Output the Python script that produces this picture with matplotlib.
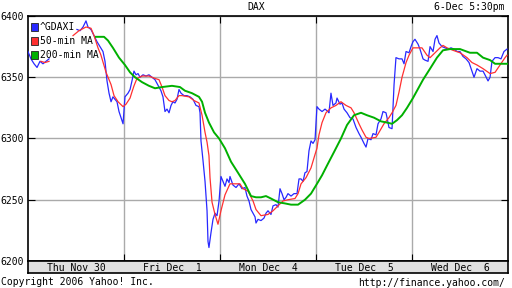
import numpy as np
import matplotlib
matplotlib.use("Agg")
import matplotlib.pyplot as plt
from matplotlib.patches import Rectangle

plt.rcParams["font.family"] = "DejaVu Sans Mono"

# time axis in trading days (0 = Thu Nov 30 open, 5 = Wed Dec 6 close)
day_labels = ["Thu Nov 30", "Fri Dec  1", "Mon Dec  4", "Tue Dec  5", "Wed Dec  6"]
y_ticks = [6200, 6250, 6300, 6350, 6400]

nan = np.nan

# ^GDAXI price
dax_t = [0.000, 0.031, 0.063, 0.094, 0.125, 0.156, 0.188, 0.219, 0.240,
         0.510, 0.542, 0.573, 0.604, 0.625, 0.656, 0.688, 0.719, 0.750, 0.781,
         0.802, 0.823, 0.844, 0.865, 0.885, 0.906, 0.927, 0.948, 0.969, 0.990,
         1.010, 1.042, 1.063, 1.083, 1.104, 1.125, 1.146, 1.167, 1.198, 1.229,
         1.260, 1.292, 1.323, 1.344, 1.365, 1.385, 1.406, 1.427, 1.448, 1.469,
         1.490, 1.510, 1.531, 1.552, 1.573, 1.594, 1.625, 1.656, 1.688, 1.719,
         1.750, 1.781, 1.792, 1.802, 1.823, 1.844, 1.865, 1.875, 1.885, 1.906,
         1.927, 1.948, 1.969, 1.990,
         2.010, 2.031, 2.052, 2.073, 2.094, 2.104, 2.135, 2.167, 2.198, 2.229,
         2.260, 2.281, 2.302, 2.323, 2.344, 2.365, 2.375, 2.396, 2.427, 2.458,
         2.479, 2.500, 2.531, 2.552, 2.583, 2.604, 2.625, 2.646, 2.667, 2.688,
         2.708, 2.740, 2.771, 2.802, 2.823, 2.844, 2.865, 2.885, 2.906, 2.927,
         2.948, 2.969, 2.990,
         3.000, 3.010, 3.031, 3.063, 3.094, 3.125, 3.135, 3.156, 3.177, 3.208,
         3.219, 3.250, 3.271, 3.292, 3.323, 3.354, 3.385, 3.417, 3.448, 3.469,
         3.500, 3.521, 3.542, 3.573, 3.594, 3.625, 3.646, 3.677, 3.698, 3.729,
         3.740, 3.760, 3.792, 3.813, 3.833, 3.865, 3.896, 3.917, 3.938, 3.969,
         3.990,
         4.010, 4.031, 4.063, 4.083, 4.115, 4.135, 4.167, 4.188, 4.219, 4.240,
         4.260, 4.281, 4.313, 4.344, 4.375, 4.406, 4.438, 4.469, 4.500, 4.531,
         4.563, 4.594, 4.625, 4.646, 4.677, 4.708, 4.740, 4.760, 4.792, 4.813,
         4.833, 4.865, 4.896, 4.927, 4.958, 4.990]
dax_v = [6371, 6365, 6361, 6358, 6363, 6361, 6363, 6365, nan,
         6389, 6388, 6391, 6396, 6391, 6389, 6384, 6379, 6375, 6371,
         6363, 6347, 6337, 6330, 6334, 6332, 6330, 6322, 6317, 6312,
         6334, 6337, 6340, 6347, 6355, 6352, 6353, 6350, 6352, 6351,
         6352, 6350, 6348, 6345, 6342, 6339, 6334, 6322, 6324, 6321,
         6327, 6330, 6329, 6332, 6340, 6337, 6335, 6335, 6334, 6332,
         6327, 6326, 6321, 6298, 6282, 6265, 6241, 6216, 6211, 6223,
         6234, 6239, 6237, 6249,
         6269, 6265, 6261, 6267, 6264, 6269, 6262, 6260, 6263, 6259,
         6260, 6253, 6249, 6242, 6239, 6236, 6231, 6234, 6233, 6235,
         6239, 6241, 6238, 6245, 6246, 6244, 6259, 6255, 6250, 6252,
         6255, 6253, 6255, 6255, 6267, 6267, 6265, 6272, 6273, 6290,
         6298, 6296, 6299,
         6312, 6326, 6324, 6322, 6324, 6322, 6321, 6337, 6327, 6329,
         6333, 6328, 6329, 6324, 6321, 6317, 6316, 6309, 6304, 6301,
         6296, 6293, 6300, 6299, 6304, 6303, 6312, 6316, 6322, 6321,
         6317, 6309, 6308, 6344, 6366, 6365, 6365, 6361, 6371, 6370,
         6375,
         6379, 6381, 6377, 6373, 6365, 6364, 6363, 6375, 6371, 6381,
         6384, 6378, 6375, 6374, 6373, 6374, 6373, 6371, 6371, 6367,
         6365, 6362, 6355, 6350, 6357, 6355, 6355, 6352, 6347, 6350,
         6363, 6366, 6366, 6365, 6371, 6373]

# 50-min moving average
ma50_t = [0.135, 0.177, 0.219, 0.240, 0.469, 0.531, 0.604, 0.656, 0.688,
          0.729, 0.760, 0.813, 0.865, 0.896, 0.938, 0.990,
          1.021, 1.063, 1.083, 1.104, 1.135, 1.188, 1.260, 1.323, 1.365,
          1.396, 1.427, 1.469, 1.500, 1.531, 1.573, 1.604, 1.677, 1.729,
          1.781, 1.813, 1.844, 1.865, 1.885, 1.896, 1.917, 1.948, 1.979,
          2.010, 2.052, 2.104, 2.156, 2.208, 2.240, 2.292, 2.344, 2.375,
          2.427, 2.500, 2.552, 2.604, 2.656, 2.708, 2.781, 2.813, 2.844,
          2.896, 2.948, 2.990,
          3.010, 3.031, 3.063, 3.104, 3.156, 3.208, 3.260, 3.313, 3.365,
          3.396, 3.448, 3.479, 3.521, 3.552, 3.625, 3.656, 3.708, 3.760,
          3.792, 3.833, 3.865, 3.896, 3.938, 3.969,
          4.010, 4.052, 4.104, 4.156, 4.188, 4.240, 4.292, 4.323, 4.365,
          4.427, 4.500, 4.573, 4.625, 4.677, 4.740, 4.813, 4.865, 4.917,
          4.969, 4.990]
ma50_v = [6363, 6362, 6363, nan, 6384, 6388, 6391, 6390, 6384,
          6374, 6368, 6354, 6344, 6335, 6330, 6326,
          6328, 6333, 6338, 6343, 6349, 6351, 6351, 6349, 6348,
          6342, 6335, 6331, 6330, 6331, 6335, 6335, 6334, 6331,
          6329, 6319, 6305, 6297, 6286, 6268, 6248, 6238, 6230,
          6241, 6254, 6263, 6263, 6263, 6259, 6257, 6249, 6242,
          6237, 6238, 6241, 6245, 6249, 6250, 6251, 6255, 6263,
          6268, 6276, 6287,
          6292, 6303, 6313, 6321, 6325, 6327, 6330, 6327, 6325,
          6321, 6312, 6307, 6301, 6300, 6301, 6305, 6312, 6317,
          6321, 6327, 6338, 6350, 6362, 6368,
          6374, 6374, 6374, 6368, 6366, 6370, 6374, 6376, 6374,
          6372, 6370, 6366, 6362, 6360, 6357, 6353, 6354, 6360,
          6366, 6368]

# 200-min moving average
ma200_t = [0.708, 0.792, 0.833, 0.885, 0.948,
           1.010, 1.063, 1.115, 1.188, 1.260, 1.323, 1.396, 1.500, 1.583,
           1.635, 1.708, 1.781, 1.813, 1.844, 1.885, 1.938, 1.990,
           2.052, 2.115, 2.188, 2.260, 2.323, 2.375, 2.427, 2.479, 2.531,
           2.604, 2.677, 2.740, 2.813, 2.885, 2.948,
           3.010, 3.063, 3.115, 3.188, 3.260, 3.323, 3.396, 3.469, 3.531,
           3.604, 3.677, 3.740, 3.792, 3.844, 3.896, 3.948,
           4.010, 4.052, 4.115, 4.188, 4.260, 4.323, 4.396, 4.500, 4.604,
           4.677, 4.740, 4.813, 4.865, 4.917, 4.990]
ma200_v = [6383, 6383, 6380, 6374, 6366,
           6360, 6354, 6350, 6346, 6343, 6341, 6342, 6343, 6342,
           6339, 6337, 6334, 6330, 6321, 6313, 6305, 6300,
           6292, 6281, 6272, 6263, 6253, 6252, 6252, 6253, 6251,
           6248, 6247, 6246, 6246, 6250, 6255,
           6263, 6270, 6278, 6289, 6300, 6311, 6319, 6321, 6319,
           6317, 6314, 6313, 6312, 6315, 6319, 6325,
           6333, 6339, 6348, 6357, 6366, 6372, 6373, 6373, 6370,
           6370, 6366, 6364, 6361, 6361, 6361]

blue = "#2828ff"
red = "#ff3030"
green = "#00b000"
fs = 7

W, H = 512, 288
fig = plt.figure(figsize=(W / 100, H / 100), dpi=100)
ax = fig.add_axes([28 / W, 27 / H, 480 / W, 245 / H])

ax.plot(dax_t, dax_v, color=blue, lw=0.9, zorder=3)
ax.plot(ma50_t, ma50_v, color=red, lw=0.9, zorder=4)
ax.plot(ma200_t, ma200_v, color=green, lw=1.4, zorder=5)

ax.set_xlim(0, 5)
ax.set_ylim(6200, 6400)
ax.set_xticks([1, 2, 3, 4])
ax.set_xticklabels([])
ax.set_yticks(y_ticks)
ax.set_yticklabels([str(v) for v in y_ticks], fontsize=fs)
ax.grid(True, color="#aaaaaa", lw=1.0)
ax.tick_params(axis="x", direction="in", length=5, top=True, bottom=True, color="black")
ax.tick_params(axis="y", direction="in", length=5, left=True, right=True, pad=3, color="black")
for s in ax.spines.values():
    s.set_linewidth(1.2)

# legend drawn by hand
leg = [("^GDAXI", blue), ("50-min MA", red), ("200-min MA", green)]
for i, (name, c) in enumerate(leg):
    yc = 27 + 14 * i
    fig.add_artist(Rectangle((31 / W, (H - yc - 3.5) / H), 7 / W, 7 / H,
                             transform=fig.transFigure, facecolor=c,
                             edgecolor="#222222", lw=0.6, zorder=10))
    fig.text(40 / W, (H - yc) / H, name, fontsize=fs, va="center", ha="left", zorder=10)

# date band under the plot
band = fig.add_axes([28 / W, 15 / H, 480 / W, 12 / H], facecolor="#e0e0e0")
band.set_xlim(0, 5)
band.set_ylim(0, 1)
band.set_xticks([])
band.set_yticks([])
for s in band.spines.values():
    s.set_linewidth(1.2)
for i, lab in enumerate(day_labels):
    band.text(i + 0.5, 0.45, lab, fontsize=fs, ha="center", va="center")

fig.text(0.5, (H - 7) / H, "DAX", fontsize=fs, ha="center", va="center")
fig.text(505 / W, (H - 7) / H, "6-Dec 5:30pm", fontsize=fs, ha="right", va="center")
fig.text(1 / W, (H - 282) / H, "Copyright 2006 Yahoo! Inc.", fontsize=fs, ha="left", va="center")
fig.text(505 / W, (H - 283) / H, "http://finance.yahoo.com/", fontsize=fs, ha="right", va="center")

fig.savefig("out.png", dpi=100)
